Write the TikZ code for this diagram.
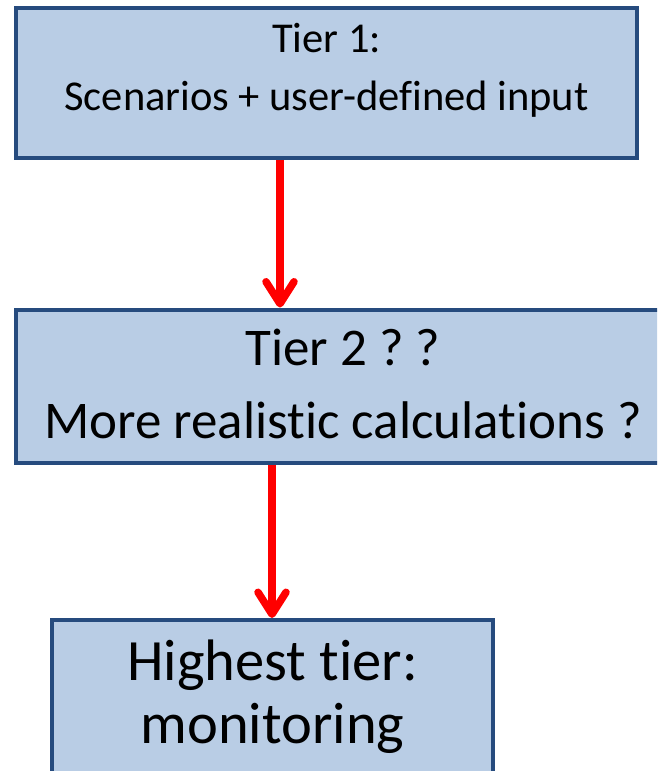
\documentclass[tikz,border=0pt]{standalone}
\usepackage{fontspec}
\setmainfont{Carlito}[Ligatures=NoCommon]
\frenchspacing
\usetikzlibrary{arrows.meta}
\definecolor{tierfill}{HTML}{B9CDE5}
\definecolor{tierline}{HTML}{264B7E}
\begin{document}
\begin{tikzpicture}[x=1pt,y=-1pt,
	tierbox/.style={draw=tierline,fill=tierfill,line width=4pt,align=center,inner sep=0pt},
	redarrow/.style={red,line width=7.5pt,-{Straight Barb[length=22pt,width=28pt,round]}}]
	\clip (0,0) rectangle (657,771);
	%Tier 1
		\node [tierbox,minimum width=621pt,minimum height=150pt,text height=66pt,text depth=12pt,font=\fontsize{42.5}{58}\selectfont] (tier1) at (326.5,83) {Tier 1:\\Scenarios + user-defined input};
	%Tier 2
		\node [tierbox,minimum width=654pt,minimum height=153pt,text height=116pt,text depth=12pt,font=\fontsize{53}{73}\selectfont] (tier2) at (343,386) {Tier 2 ? ?\\More realistic calculations ?};
	%Highest tier
		\node [tierbox,minimum width=441pt,minimum height=172pt,text height=86pt,text depth=12pt,font=\fontsize{58.5}{63}\selectfont] (top) at (272.5,706) {Highest tier:\\monitoring};
	%Arrow to Tier 2
		\draw [redarrow] ([xshift=-46.5pt]tier1.south) -- ([xshift=-46.5pt]tier1.south |- tier2.north);
	%Arrow to Highest tier
		\draw [redarrow] ([xshift=-71pt]tier2.south) -- ([xshift=-71pt]tier2.south |- top.north);
\end{tikzpicture}
\end{document}
